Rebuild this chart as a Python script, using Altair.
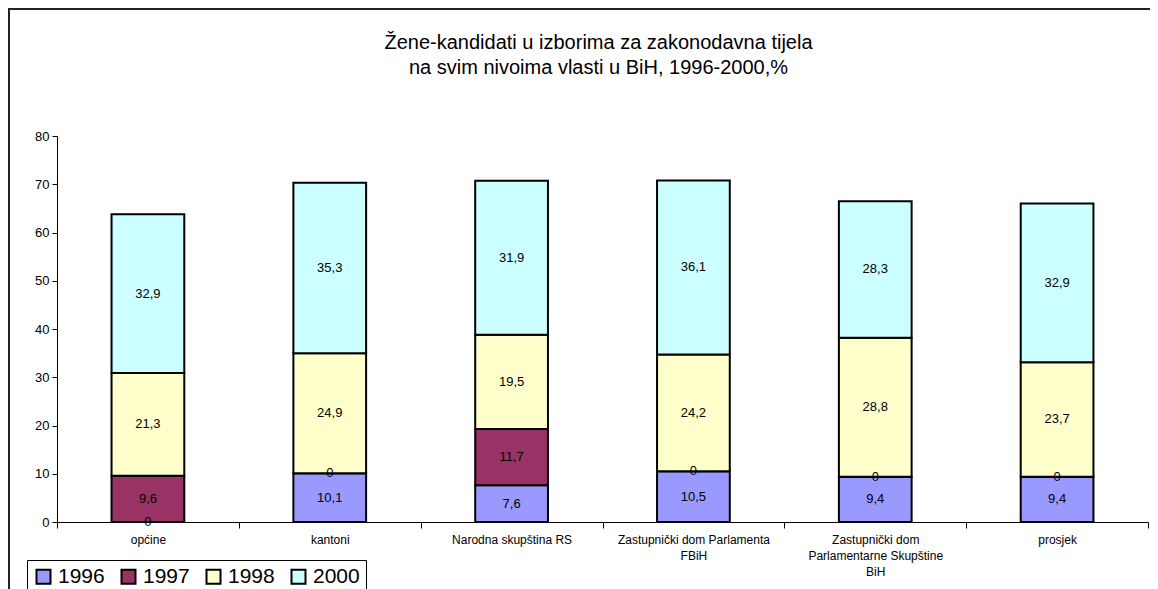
import altair as alt
import pandas as pd

categories = ["općine", "kantoni", "Narodna skupština RS",
              "Zastupnički dom Parlamenta|FBiH",
              "Zastupnički dom|Parlamentarne Skupštine|BiH", "prosjek"]
years = ["1996", "1997", "1998", "2000"]
v1996 = [0, 10.1, 7.6, 10.5, 9.4, 9.4]
v1997 = [9.6, 0, 11.7, 0, 0, 0]
v1998 = [21.3, 24.9, 19.5, 24.2, 28.8, 23.7]
v2000 = [32.9, 35.3, 31.9, 36.1, 28.3, 32.9]
colors = ["#9999FF", "#993366", "#FFFFCC", "#CCFFFF"]
title_lines = ["Žene-kandidati u izborima za zakonodavna tijela",
               "na svim nivoima vlasti u BiH, 1996-2000,%"]
y_ticks = [0, 10, 20, 30, 40, 50, 60, 70, 80]

rows = []
for yi, (yr, vals) in enumerate(zip(years, [v1996, v1997, v1998, v2000])):
    for c, v in zip(categories, vals):
        rows.append({"cat": c, "year": yr, "value": v, "ord": yi})
df = pd.DataFrame(rows)

FONT = "Liberation Sans"
W, H = 1091, 386

base = alt.Chart(df).transform_stack(
    stack="value", groupby=["cat"],
    sort=[alt.SortField(field="ord", order="ascending")],
    as_=["y0", "y1"]
).transform_calculate(
    mid="(datum.y0 + datum.y1) / 2",
    lab="replace(toString(datum.value), '.', ',')"
)

x_enc = alt.X(
    "cat:N", sort=categories,
    scale=alt.Scale(paddingInner=0, paddingOuter=0),
    axis=alt.Axis(title=None, labelExpr="split(datum.label, '|')", labelAngle=0,
                  tickBand="extent", tickSize=6, tickColor="black",
                  domainColor="black", labelFontSize=12, labelLineHeight=16,
                  labelPadding=6, labelFont=FONT, labelColor="black",
                  labelLimit=400, labelBaseline="top"),
)
y_scale = alt.Scale(domain=[0, 80], nice=False)

bars = base.mark_bar(width=alt.RelativeBandSize(0.4), stroke="black", strokeWidth=2).encode(
    x=x_enc,
    y=alt.Y("y0:Q", scale=y_scale,
            axis=alt.Axis(title=None, values=y_ticks, grid=False, tickSize=5,
                          tickColor="black", domainColor="black", labelFontSize=13,
                          labelFont=FONT, labelColor="black", labelPadding=3)),
    y2="y1:Q",
    color=alt.Color("year:N", scale=alt.Scale(domain=years, range=colors),
                    legend=alt.Legend(title=None, orient="none", legendX=-30, legendY=424,
                                      direction="horizontal", symbolType="square",
                                      symbolSize=196, symbolStrokeColor="black",
                                      symbolStrokeWidth=2, labelFontSize=21,
                                      labelFont=FONT, labelColor="black",
                                      labelOffset=4, columnPadding=12, padding=6,
                                      strokeColor="black")),
    order=alt.Order("ord:Q"),
)

labels = base.mark_text(fontSize=13, font=FONT, color="black", baseline="middle").encode(
    x=alt.X("cat:N", sort=categories),
    y=alt.Y("mid:Q", scale=y_scale),
    text="lab:N",
)

one = alt.Data(values=[{"a": 1}])

border = alt.Chart(one).mark_rect(
    fill="white", fillOpacity=0, stroke="#222222", strokeWidth=2
).encode(
    x=alt.value(-48), x2=alt.value(W + 40), y=alt.value(-127), y2=alt.value(H + 120)
)

title = alt.Chart(one).mark_text(
    text=title_lines, fontSize=20, font=FONT, color="black",
    align="center", baseline="middle", lineHeight=25
).encode(x=alt.value(W / 2 - 4), y=alt.value(-93))

chart = alt.layer(border, bars, labels, title).properties(
    width=W, height=H,
    padding={"left": 49, "top": 128, "right": 2, "bottom": 67},
    autosize=alt.AutoSizeParams(type="none"),
).configure_view(stroke=None)

chart.save("out.html", embed_options={"renderer": "svg", "actions": False})
